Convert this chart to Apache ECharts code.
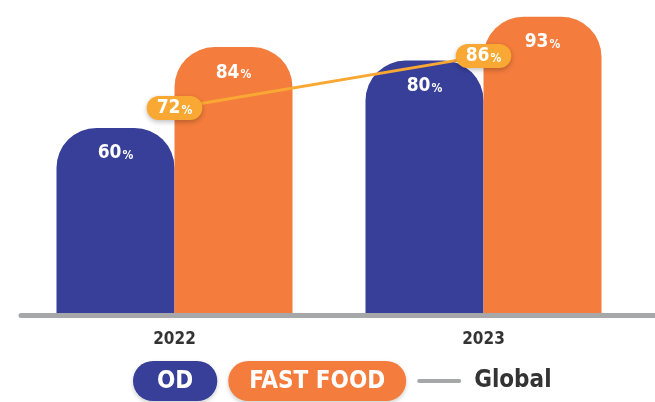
<!DOCTYPE html>
<html>
<head>
<meta charset="utf-8">
<script src="https://cdn.jsdelivr.net/npm/echarts@6/dist/echarts.min.js"></script>
<style>
  html, body { margin: 0; padding: 0; background: #fff; }
  #chart { width: 655px; height: 402px; }
</style>
</head>
<body>
<div id="chart"></div>
<script>
// Data
const years = ['2022', '2023'];
const odValues = [60, 80];
const fastFoodValues = [84, 93];
const globalValues = [72, 86];

const font = '"DejaVu Sans Condensed", "DejaVu Sans", sans-serif';
const blue = '#373F98';
const orange = '#F47C3C';
const gold = '#F9A833';

const chart = echarts.init(document.getElementById('chart'));

// label: angka besar + % kecil
const pctRich = {
    v: { color: '#fff', fontSize: 19, fontWeight: 'bold', fontFamily: font },
    p: { color: '#fff', fontSize: 12, fontWeight: 'bold', fontFamily: font, padding: [5, 0, 0, 1] }
};

const barLabel = {
    show: true,
    position: 'insideTop',
    distance: 16,
    formatter: p => `{v|${p.value}}{p|%}`,
    rich: pctRich
};

const pill = (bg, padX) => ({
    color: '#fff', backgroundColor: bg, borderRadius: 20,
    padding: [9, padX, 7, padX], fontSize: 24, fontWeight: 'bold', fontFamily: font,
    shadowColor: 'rgba(0,0,0,0.2)', shadowBlur: 4, shadowOffsetY: 2
});

chart.setOption({
    animation: false,
    grid: { left: 20, right: 17, top: 0, bottom: 89 },
    legend: {
        bottom: -4,
        left: 123,
        itemGap: 6,
        itemWidth: 0,
        itemHeight: 0,
        selectedMode: false,
        data: [
            { name: 'OD', icon: 'none', textStyle: pill(blue, 24) },
            { name: 'FAST FOOD', icon: 'none', textStyle: pill(orange, 21) },
            { name: 'Global', icon: 'none' }
        ],
        formatter: name => name === 'Global' ? `{line|}{g|Global}` : name,
        textStyle: {
            rich: {
                line: { width: 44, height: 4, backgroundColor: '#A5A7A8', borderRadius: 2 },
                g: { color: '#333', fontSize: 24, fontWeight: 'bold', fontFamily: font, padding: [0, 0, 0, 13] }
            }
        }
    },
    xAxis: {
        type: 'category',
        data: years,
        axisLine: { show: false },
        axisTick: { show: false },
        axisLabel: { color: '#333', fontSize: 17, fontWeight: 'bold', fontFamily: font, margin: 18 }
    },
    yAxis: [
        { type: 'value', min: 5, max: 98, show: false },
        { type: 'value', min: 17, max: 101, show: false }
    ],
    graphic: [{
        type: 'line',
        shape: { x1: 21, y1: 315.5, x2: 660, y2: 315.5 },
        style: { stroke: '#A5A7A8', lineWidth: 5, lineCap: 'round' },
        z: 10
    }],
    series: [
        {
            name: 'OD', type: 'bar', data: odValues,
            barWidth: 118, barGap: 0,
            itemStyle: { color: blue, borderRadius: [40, 40, 0, 0] },
            label: barLabel
        },
        {
            name: 'FAST FOOD', type: 'bar', data: fastFoodValues,
            barWidth: 118,
            itemStyle: { color: orange, borderRadius: [40, 40, 0, 0] },
            label: barLabel
        },
        {
            name: 'Global', type: 'line', data: globalValues, yAxisIndex: 1,
            symbol: 'circle', symbolSize: 1,
            lineStyle: { color: gold, width: 3 },
            itemStyle: { color: gold },
            z: 5,
            label: {
                show: true,
                position: 'inside',
                formatter: p => `{v|${p.value}}{p|%}`,
                backgroundColor: gold,
                borderRadius: 13,
                padding: [3, 10, 2, 10],
                shadowColor: 'rgba(0,0,0,0.25)',
                shadowBlur: 5,
                shadowOffsetY: 2,
                rich: pctRich
            }
        }
    ]
});
</script>
</body>
</html>
